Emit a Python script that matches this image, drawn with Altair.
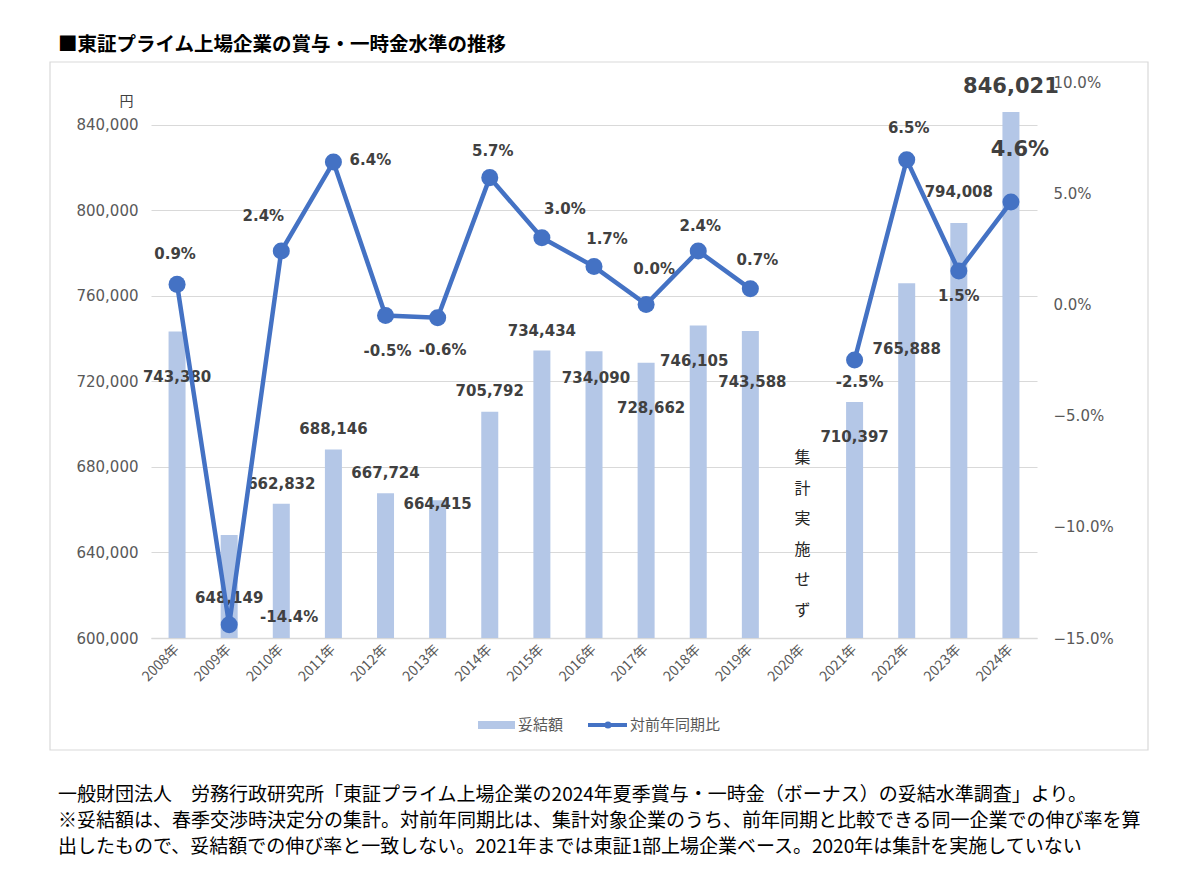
import altair as alt
import pandas as pd

years = ["2008年", "2009年", "2010年", "2011年", "2012年", "2013年", "2014年", "2015年",
         "2016年", "2017年", "2018年", "2019年", "2020年", "2021年", "2022年", "2023年", "2024年"]
bonus = [743380, 648149, 662832, 688146, 667724, 664415, 705792, 734434,
         734090, 728662, 746105, 743588, None, 710397, 765888, 794008, 846021]
yoy = [0.9, -14.4, 2.4, 6.4, -0.5, -0.6, 5.7, 3.0,
       1.7, 0.0, 2.4, 0.7, None, -2.5, 6.5, 1.5, 4.6]
segment = ["a"] * 12 + [None] + ["b"] * 4

# label offsets (pixels, relative to the data point)
bar_dx = [0, 0, 0, 0, 0, 0, 0, 0, 2, 5, -4, 2, 0, 0, 0, 0, 0]
bar_dy = [46, 63, -20, -21, -20, 4, -21, -20, 27, 45, 35, 51, 0, 35, 66, -31, -25]
pct_dx = [-2, 60, -18, 37, 2, 5, 3, 23, 13, 8, 2, 7, 0, 5, 2, 0, 9]
pct_dy = [-30, -8, -35, -2, 35, 32, -27, -29, -28, -35, -25, -29, 0, 22, -32, 25, -52]

title_text = "■東証プライム上場企業の賞与・一時金水準の推移"
foot_lines = [
    "一般財団法人　労務行政研究所「東証プライム上場企業の2024年夏季賞与・一時金（ボーナス）の妥結水準調査」より。",
    "※妥結額は、春季交渉時決定分の集計。対前年同期比は、集計対象企業のうち、前年同期と比較できる同一企業での伸び率を算",
    "出したもので、妥結額での伸び率と一致しない。2021年までは東証1部上場企業ベース。2020年は集計を実施していない",
]
legend_labels = ["妥結額", "対前年同期比"]
note_2020 = "集\n計\n実\n施\nせ\nず"

FONT = "Noto Sans CJK JP"
NUM_FONT = "DejaVu Sans"
BAR_COLOR = "#B4C7E7"
LINE_COLOR = "#4472C4"
LABEL_COLOR = "#404040"
AXIS_COLOR = "#595959"

df = pd.DataFrame({"year": years, "bonus": bonus, "yoy": yoy, "seg": segment})
df["bonus_label"] = df["bonus"].apply(lambda v: f"{int(v):,}" if pd.notna(v) else "")
df["yoy_label"] = df["yoy"].apply(lambda v: f"{v:.1f}%" if pd.notna(v) else "")

x_enc = alt.X("year:O", sort=years, title=None,
              scale=alt.Scale(paddingInner=0, paddingOuter=0),
              axis=alt.Axis(labelAngle=-45, labelAlign="right", labelBaseline="middle",
                            labelPadding=9, labelFontSize=14, labelColor=AXIS_COLOR,
                            labelFont=FONT, ticks=False, domainColor="#d9d9d9",
                            domainWidth=1.5, grid=False, labelLimit=200))

left_scale = alt.Scale(domain=[600000, 860000], nice=False, zero=False)
right_scale = alt.Scale(domain=[-15, 10], nice=False, zero=False)

left_axis = alt.Axis(values=[600000, 640000, 680000, 720000, 760000, 800000, 840000],
                     labelExpr="format(datum.value, ',')", title="円", titleAngle=0,
                     titleX=-25, titleY=19,
                     titleAlign="center", titleBaseline="middle", titleFontSize=14,
                     titleFontWeight="normal", titleColor=LABEL_COLOR, titleFont=FONT,
                     labelFontSize=15, labelColor=AXIS_COLOR, labelFont=NUM_FONT,
                     labelPadding=13, ticks=False, domain=False,
                     grid=True, gridColor="#d9d9d9", gridWidth=1.2)
right_axis = alt.Axis(orient="right", values=[-15, -10, -5, 0, 5, 10],
                      labelExpr="format(datum.value, '.1f') + '%'", title=None,
                      labelFontSize=15, labelColor=AXIS_COLOR, labelFont=NUM_FONT,
                      labelPadding=16, ticks=False, domain=False, grid=False)

y_left = alt.Y("bonus:Q", scale=left_scale, axis=left_axis)
y_right = alt.Y("yoy:Q", scale=right_scale, axis=right_axis)

base = alt.Chart(df)

bars = base.transform_filter("datum.bonus != null").mark_bar(size=17, color=BAR_COLOR).encode(
    x=x_enc, y=y_left, y2=alt.datum(600000))

bar_labels = []
pct_labels = []
for i, yr in enumerate(years):
    if bonus[i] is None:
        continue
    big = (yr == "2024年")
    bar_labels.append(
        base.transform_filter(alt.datum.year == yr).mark_text(
            font=NUM_FONT, fontSize=21 if big else 15, fontWeight="bold", color=LABEL_COLOR,
            baseline="middle", align="center", dx=bar_dx[i], dy=bar_dy[i]
        ).encode(x=x_enc, y=y_left, text="bonus_label:N"))
    pct_labels.append(
        base.transform_filter(alt.datum.year == yr).mark_text(
            font=NUM_FONT, fontSize=21 if big else 15, fontWeight="bold", color=LABEL_COLOR,
            baseline="middle", align="center", dx=pct_dx[i], dy=pct_dy[i]
        ).encode(x=x_enc, y=y_right, text="yoy_label:N"))

note = alt.Chart(pd.DataFrame({"year": ["2020年"], "bonus": [684000], "t": [note_2020]})).mark_text(
    font=FONT, fontSize=16, color="#262626", lineBreak="\n", lineHeight=30.5,
    baseline="middle", align="center"
).encode(x=x_enc, y=y_left, text="t:N")

line = base.transform_filter("datum.yoy != null").mark_line(
    color=LINE_COLOR, strokeWidth=4.5
).encode(x=x_enc, y=y_right, detail="seg:N")

points = base.transform_filter("datum.yoy != null").mark_circle(
    color=LINE_COLOR, size=290, opacity=1
).encode(x=x_enc, y=y_right)

# decorations: frame, title, footnotes, legend
one = alt.Chart(pd.DataFrame({"k": [0]}))
frame = one.mark_rect(fill=None, stroke="#d9d9d9", strokeWidth=1.2).encode(
    x=alt.value(-101), x2=alt.value(997), y=alt.value(-20), y2=alt.value(668))

title = one.mark_text(font=FONT, fontSize=19.5, fontWeight="bold", color="#000000",
                      align="left", baseline="middle").encode(
    x=alt.value(-93), y=alt.value(-37), text=alt.value(title_text))

foot = [
    one.mark_text(font=FONT, fontSize=19, color="#000000", align="left",
                  baseline="middle").encode(x=alt.value(-93), y=alt.value(yy), text=alt.value(t))
    for t, yy in zip(foot_lines, [713, 739, 765])
]

leg_sw = one.mark_rect(color=BAR_COLOR).encode(
    x=alt.value(327), x2=alt.value(364), y=alt.value(639), y2=alt.value(647))
leg_t1 = one.mark_text(font=FONT, fontSize=15, color=AXIS_COLOR, align="left",
                       baseline="middle").encode(x=alt.value(367), y=alt.value(643),
                                                 text=alt.value(legend_labels[0]))
leg_ln = one.mark_rule(color=LINE_COLOR, strokeWidth=4).encode(
    x=alt.value(437), x2=alt.value(476), y=alt.value(643))
leg_pt = one.mark_circle(color=LINE_COLOR, size=50, opacity=1).encode(
    x=alt.value(457), y=alt.value(643))
leg_t2 = one.mark_text(font=FONT, fontSize=15, color=AXIS_COLOR, align="left",
                       baseline="middle").encode(x=alt.value(479), y=alt.value(643),
                                                 text=alt.value(legend_labels[1]))

left_group = alt.layer(frame, bars, note, *bar_labels)
right_group = alt.layer(line, points, *pct_labels, title, *foot,
                        leg_sw, leg_t1, leg_ln, leg_pt, leg_t2)

chart = alt.layer(left_group, right_group).resolve_scale(y="independent").properties(
    width=886, height=556,
    autosize=alt.AutoSizeParams(type="none"),
    padding={"left": 143, "top": 74, "right": 150, "bottom": 240},
    background="white",
).configure_view(stroke=None)

chart.save("out.html", embed_options={"renderer": "svg", "actions": False})
